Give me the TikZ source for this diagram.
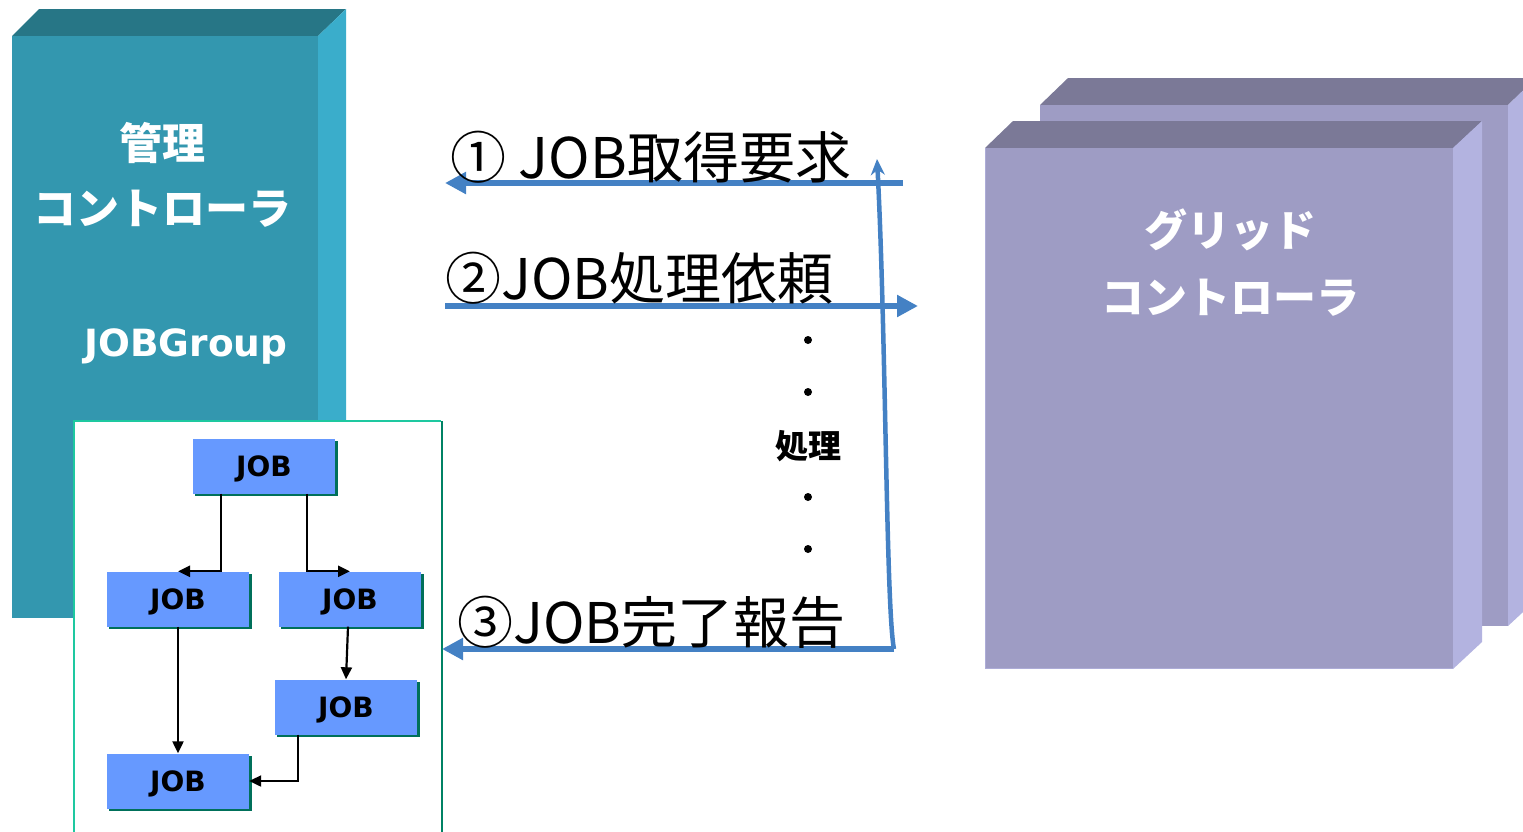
\documentclass[tikz,border=0pt]{standalone}
\usepackage{fontspec}
\newfontfamily\jp{Noto Sans CJK JP}
\newfontfamily\dvs{DejaVu Sans}
\usetikzlibrary{arrows.meta,calc}
\definecolor{tealfront}{RGB}{51,151,175}
\definecolor{tealtop}{RGB}{39,118,134}
\definecolor{tealside}{RGB}{58,173,203}
\definecolor{gfront}{RGB}{158,156,196}
\definecolor{gtop}{RGB}{123,121,151}
\definecolor{gside}{RGB}{179,179,224}
\definecolor{arrowblue}{RGB}{68,129,196}
\definecolor{jobblue}{RGB}{102,153,255}
\definecolor{jobshadow}{RGB}{0,112,90}
\definecolor{panelline}{RGB}{30,200,160}
\definecolor{paneldark}{RGB}{0,130,100}
\tikzset{
  jobbox/.style={fill=jobblue, minimum width=142pt, minimum height=55pt, inner sep=0pt,
     text height=20pt, text depth=0pt,
     font=\dvs\bfseries\fontsize{28}{30}\selectfont, text=black},
  conn/.style={draw=black, line width=2.2pt, -{Triangle[length=12pt,width=11pt]}},
  bluearrow/.style={draw=arrowblue, line width=6.5pt, -{Triangle[length=21pt,width=21pt]}},
  steplabel/.style={font=\jp\fontsize{56}{60}\selectfont, anchor=base west, inner sep=0pt},
  whitelabel/.style={text=white, anchor=base, inner sep=0pt},
}
\begin{document}
\begin{tikzpicture}[x=1pt,y=-1pt]
\useasboundingbox (0,0) rectangle (1523,831);
% ---- management controller (teal box)
\fill[tealtop] (12,36) -- (39,9) -- (346,9) -- (318,36) -- cycle;
\fill[tealside] (318,36) -- (346,9) -- (346,600) -- (318,618) -- cycle;
\fill[tealfront] (12,36) rectangle (318,618);
\node[whitelabel, font=\jp\bfseries\fontsize{43}{46}\selectfont] (kanri) at (162,159) {管理};
\node[whitelabel, font=\jp\bfseries\fontsize{43}{46}\selectfont] (kctl) at (162,224) {コントローラ};
\node[whitelabel, font=\dvs\bfseries\fontsize{37.5}{40}\selectfont] (jg) at (186,356) {JOBGroup};
% ---- JOB group panel
\fill[white] (74,421) rectangle (442,840);
\draw[panelline, line width=2pt] (74,840) -- (74,421) -- (441,421);
\draw[paneldark, line width=2.5pt] (442,421) -- (442,840);
% ---- JOB boxes
\foreach \n/\x/\y in {j1/264/466, j2/178/599, j3/350/599, j4/346/707, j5/178/781}{
  \fill[jobshadow] (\x-69,\y-25.5) rectangle (\x+73.5,\y+30);
  \node[jobbox] (\n) at (\x,\y) {JOB};
}
\draw[conn] ([xshift=-43pt]j1.south) |- (j2.north);
\draw[conn] ([xshift=43pt]j1.south) |- (j3.north);
\draw[conn] (j2.south) -- (j5.north);
\draw[conn] ([xshift=-2pt]j3.south) -- (j4.north);
\draw[conn] ([xshift=-48pt]j4.south) |- (j5.east);
% ---- grid controllers
\fill[gtop] (1040,105) -- (1068,78) -- (1536,78) -- (1508,105) -- cycle;
\fill[gside] (1508,105) -- (1536,78) -- (1536,600) -- (1508,626) -- cycle;
\fill[gfront] (1040,105) rectangle (1508,626);
\fill[gtop] (985,148) -- (1013,121) -- (1482,121) -- (1453,148) -- cycle;
\fill[gside] (1453,148) -- (1482,121) -- (1482,642) -- (1453,669) -- cycle;
\fill[gfront] (985,148) rectangle (1453,669);
\draw[gside!70!gfront, line width=1.5pt] (985.5,148) -- (985.5,668.5) -- (1453,668.5);
\node[whitelabel, font=\jp\bfseries\fontsize{43}{48}\selectfont] (grid1) at (1230,246) {グリッド};
\node[whitelabel, font=\jp\bfseries\fontsize{43}{48}\selectfont] (grid2) at (1230,313) {コントローラ};
% ---- messages
\coordinate (r1) at (903,183);
\coordinate (l1) at (445,183);
\coordinate (l2) at (445,306);
\coordinate (r2) at (918,306);
\coordinate (r3) at (894,649);
\coordinate (l3) at (442,649);
\coordinate (top) at (877,159);
\draw[bluearrow] (r1) -- (l1);
\draw[bluearrow] (l2) -- (r2);
\draw[bluearrow] (r3) -- (l3);
\draw[draw=arrowblue, line width=4.5pt, -{Stealth[length=16pt,width=14pt]}]
  (r3) .. controls (886,610) and (886,330) .. (top);
\node[steplabel] (m1) at (450,178) {① JOB取得要求};
\node[steplabel] (m2) at (445,299) {②JOB処理依頼};
\node[steplabel] (m3) at (457,643) {③JOB完了報告};
% ---- processing dots
\foreach \yy in {340,392,497,549}{ \fill[black] (808,\yy) circle (4pt); }
\node[anchor=base, inner sep=0pt, font=\jp\bfseries\fontsize{33}{35}\selectfont] (shori) at (808,458) {処理};
\end{tikzpicture}
\end{document}
